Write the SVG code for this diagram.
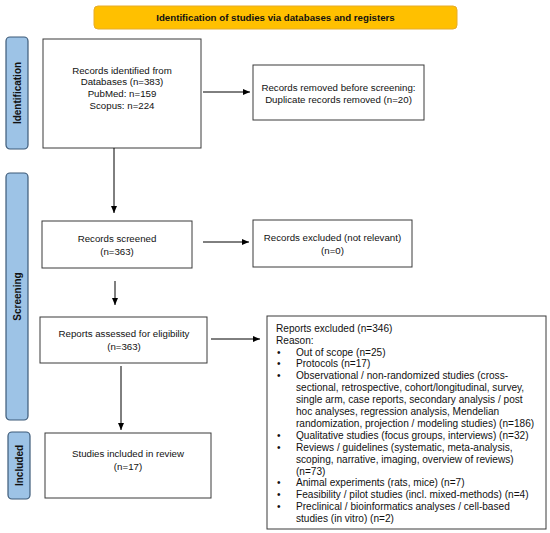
<svg xmlns="http://www.w3.org/2000/svg" width="550" height="533" viewBox="0 0 550 533">
<defs>
<marker id="ah" markerWidth="7" markerHeight="6" refX="7" refY="3" orient="auto" markerUnits="userSpaceOnUse">
<path d="M0,0 L7,3 L0,6 Z" fill="#000"/>
</marker>
<style>
.box{fill:#fff;stroke:#3a3a3a;stroke-width:1}
.t{font-family:"Liberation Sans",Arial,sans-serif;font-size:9.7px;fill:#111}
.c{text-anchor:middle}
.r{font-size:10.1px}
.side{fill:#9dc3e6;stroke:#3d5a78;stroke-width:1.2}
.sl{font-family:"Liberation Sans",Arial,sans-serif;font-size:10px;font-weight:bold;fill:#111;text-anchor:middle}
.con{stroke:#000;stroke-width:1;fill:none;marker-end:url(#ah)}
</style>
</defs>
<rect width="550" height="533" fill="#fff"/>
<g id="banner">
<rect x="94" y="6" width="363" height="23" rx="4" fill="#ffc000" stroke="#e6ac2a" stroke-width="1"/>
<text class="t c" x="275.5" y="21" font-weight="bold">Identification of studies via databases and registers</text>
</g>
<g id="lbl-identification">
<rect class="side" x="6" y="37" width="22" height="112" rx="4"/>
<text class="sl" transform="translate(20.5,93) rotate(-90)">Identification</text>
</g>
<g id="lbl-screening">
<rect class="side" x="6" y="173" width="22" height="247" rx="4"/>
<text class="sl" transform="translate(20.5,296.5) rotate(-90)">Screening</text>
</g>
<g id="lbl-included">
<rect class="side" x="8" y="432" width="22" height="67" rx="4"/>
<text class="sl" transform="translate(22.5,465.5) rotate(-90)">Included</text>
</g>
<g id="n-identified">
<rect class="box" x="43" y="39" width="158" height="109"/>
<text class="t c" x="122" y="73.5">Records identified from</text>
<text class="t c" x="122" y="85">Databases (n=383)</text>
<text class="t c" x="122" y="97">PubMed: n=159</text>
<text class="t c" x="122" y="108.5">Scopus: n=224</text>
</g>
<g id="n-removed">
<rect class="box" x="253" y="65" width="171" height="55"/>
<text class="t c" x="338.5" y="90.5">Records removed before screening:</text>
<text class="t c" x="338.5" y="102.5">Duplicate records removed (n=20)</text>
</g>
<g id="n-screened">
<rect class="box" x="42" y="221" width="150" height="47"/>
<text class="t c" x="117" y="241.5">Records screened</text>
<text class="t c" x="117" y="254.5">(n=363)</text>
</g>
<g id="n-excluded">
<rect class="box" x="253" y="220" width="159" height="47"/>
<text class="t c" x="332.5" y="240.5">Records excluded (not relevant)</text>
<text class="t c" x="332.5" y="253.5">(n=0)</text>
</g>
<g id="n-assessed">
<rect class="box" x="40" y="317" width="167" height="46"/>
<text class="t c" x="124" y="336.5">Reports assessed for eligibility</text>
<text class="t c" x="124" y="349.5">(n=363)</text>
</g>
<g id="n-included">
<rect class="box" x="45" y="433" width="166" height="65"/>
<text class="t c" x="128" y="456.5">Studies included in review</text>
<text class="t c" x="128" y="469.5">(n=17)</text>
</g>
<g id="n-reports-excluded">
<rect class="box" x="267" y="316" width="279" height="213"/>
<g class="t r">
<text x="276" y="331.7">Reports excluded (n=346)</text>
<text x="276" y="343.6">Reason:</text>
<text x="277" y="355.5">•</text><text x="296" y="355.5">Out of scope (n=25)</text>
<text x="277" y="367.4">•</text><text x="296" y="367.4">Protocols (n=17)</text>
<text x="277" y="379.3">•</text><text x="296" y="379.3">Observational / non-randomized studies (cross-</text>
<text x="296" y="391.2">sectional, retrospective, cohort/longitudinal, survey,</text>
<text x="296" y="403.1">single arm, case reports, secondary analysis / post</text>
<text x="296" y="415">hoc analyses, regression analysis, Mendelian</text>
<text x="296" y="426.9">randomization, projection / modeling studies) (n=186)</text>
<text x="277" y="438.8">•</text><text x="296" y="438.8">Qualitative studies (focus groups, interviews) (n=32)</text>
<text x="277" y="450.7">•</text><text x="296" y="450.7">Reviews / guidelines (systematic, meta-analysis,</text>
<text x="296" y="462.6">scoping, narrative, imaging, overview of reviews)</text>
<text x="296" y="474.5">(n=73)</text>
<text x="277" y="486.4">•</text><text x="296" y="486.4">Animal experiments (rats, mice) (n=7)</text>
<text x="277" y="498.3">•</text><text x="296" y="498.3">Feasibility / pilot studies (incl. mixed-methods) (n=4)</text>
<text x="277" y="510.2">•</text><text x="296" y="510.2">Preclinical / bioinformatics analyses / cell-based</text>
<text x="296" y="522.1">studies (in vitro) (n=2)</text>
</g>
</g>
<g id="connectors">
<line class="con" x1="203" y1="92" x2="250" y2="92"/>
<line class="con" x1="114" y1="148" x2="114" y2="213"/>
<line class="con" x1="203" y1="242" x2="249" y2="242"/>
<line class="con" x1="115" y1="281" x2="115" y2="305"/>
<line class="con" x1="211" y1="339" x2="260" y2="339"/>
<line class="con" x1="121" y1="366" x2="121" y2="430"/>
</g>
</svg>
